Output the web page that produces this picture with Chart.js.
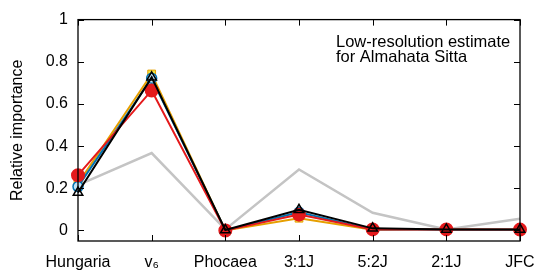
<!DOCTYPE html>
<html>
<head>
<meta charset="utf-8">
<script src="https://cdn.jsdelivr.net/npm/chart.js@4"></script>
<style>
  html, body { margin: 0; padding: 0; background: #fff; }
  #wrap { width: 548px; height: 274px; }
</style>
</head>
<body>
<div id="wrap"><canvas id="chart" width="548" height="274"></canvas></div>
<script>
const categories = ['Hungaria', 'v\u2086', 'Phocaea', '3:1J', '5:2J', '2:1J', 'JFC'];
const yTicks = [0, 0.2, 0.4, 0.6, 0.8, 1];

const grayValues   = [0.215, 0.367, 0.005, 0.289, 0.084, 0.005, 0.055];
const orangeValues = [0.222, 0.742, 0.000, 0.058, 0.003, 0.006, 0.003];
const blueValues   = [0.208, 0.722, 0.000, 0.086, 0.004, 0.004, 0.003];
const redValues    = [0.262, 0.664, 0.000, 0.075, 0.005, 0.005, 0.004];
const blackValues  = [0.180, 0.726, 0.002, 0.098, 0.010, 0.005, 0.005];

const FONT = 'Liberation Sans, Arial, Helvetica, sans-serif';

// inward ticks on all four sides plus frame, and the inset note
const framePlugin = {
    id: 'frame',
    afterDraw(chart) {
        const ctx = chart.ctx;
        const a = chart.chartArea;
        const xs = chart.scales.x, ys = chart.scales.y;
        ctx.save();
        ctx.strokeStyle = '#000';
        ctx.lineWidth = 1;
        ctx.beginPath();
        xs.ticks.forEach((t, i) => {
            const px = Math.round(xs.getPixelForTick(i)) + 0.5;
            ctx.moveTo(px, a.bottom); ctx.lineTo(px, a.bottom - 6);
            ctx.moveTo(px, a.top); ctx.lineTo(px, a.top + 6);
        });
        ys.ticks.forEach(t => {
            const py = Math.round(ys.getPixelForValue(t.value)) + 0.5;
            ctx.moveTo(a.left, py); ctx.lineTo(a.left + 6, py);
            ctx.moveTo(a.right, py); ctx.lineTo(a.right - 6, py);
        });
        ctx.stroke();
        ctx.lineWidth = 1.3;
        ctx.strokeRect(a.left, a.top, a.right - a.left, a.bottom - a.top);

        ctx.fillStyle = '#000';
        ctx.font = '16.5px ' + FONT;
        ctx.textBaseline = 'alphabetic';
        ctx.fillText('Low-resolution estimate', 336, 47);
        ctx.fillText('for Almahata Sitta', 336, 62);
        ctx.restore();
    }
};

// Chart.js paints dataset 0 on top, so black comes first and gray last
const ctx = document.getElementById('chart').getContext('2d');
const chart = new Chart(ctx, {
    type: 'line',
    data: {
        labels: categories,
        datasets: [
            {
                label: 'black',
                data: blackValues,
                borderColor: '#000',
                borderWidth: 2,
                pointStyle: 'triangle',
                pointRadius: 5.5,
                pointBackgroundColor: 'rgba(0,0,0,0)',
                pointBorderColor: '#000',
                pointBorderWidth: 1.5,
                fill: false
            },
            {
                label: 'red',
                data: redValues,
                borderColor: '#e41a1c',
                borderWidth: 2,
                pointStyle: 'circle',
                pointRadius: 6,
                pointBackgroundColor: '#e41a1c',
                pointBorderColor: '#e41a1c',
                fill: false
            },
            {
                label: 'blue',
                data: blueValues,
                borderColor: '#0072b2',
                borderWidth: 2,
                pointStyle: 'circle',
                pointRadius: 5,
                pointBackgroundColor: '#bfe3f6',
                pointBorderColor: '#0072b2',
                pointBorderWidth: 1.5,
                fill: false
            },
            {
                label: 'orange',
                data: orangeValues,
                borderColor: '#e69f00',
                borderWidth: 2,
                pointStyle: 'rect',
                pointRadius: 5.5,
                pointBackgroundColor: '#f0e442',
                pointBorderColor: '#e69f00',
                pointBorderWidth: 1,
                fill: false
            },
            {
                label: 'gray',
                data: grayValues,
                borderColor: '#c4c4c4',
                borderWidth: 2.5,
                pointRadius: 0,
                fill: false
            }
        ]
    },
    options: {
        responsive: false,
        animation: false,
        events: [],
        layout: { padding: { top: 17, right: 28, left: 0, bottom: 0 } },
        plugins: {
            legend: { display: false },
            tooltip: { enabled: false }
        },
        scales: {
            x: {
                offset: false,
                grid: { display: false, drawTicks: false },
                border: { display: false },
                ticks: {
                    color: '#000',
                    padding: 12,
                    maxRotation: 0,
                    autoSkip: false,
                    font: { family: FONT, size: 16 }
                },
                afterFit: s => { s.height = 33; }
            },
            y: {
                min: -0.05,
                max: 1,
                grid: { display: false, drawTicks: false },
                border: { display: false },
                afterBuildTicks: s => { s.ticks = yTicks.map(v => ({ value: v })); },
                ticks: {
                    color: '#000',
                    padding: 10,
                    font: { family: FONT, size: 16 },
                    callback: v => String(Math.round(v * 10) / 10)
                },
                title: {
                    display: true,
                    text: 'Relative importance',
                    color: '#000',
                    font: { family: FONT, size: 16 },
                    padding: { top: 8, bottom: 0 }
                },
                afterFit: s => { s.width = 78; }
            }
        }
    },
    plugins: [framePlugin]
});
</script>
</body>
</html>
